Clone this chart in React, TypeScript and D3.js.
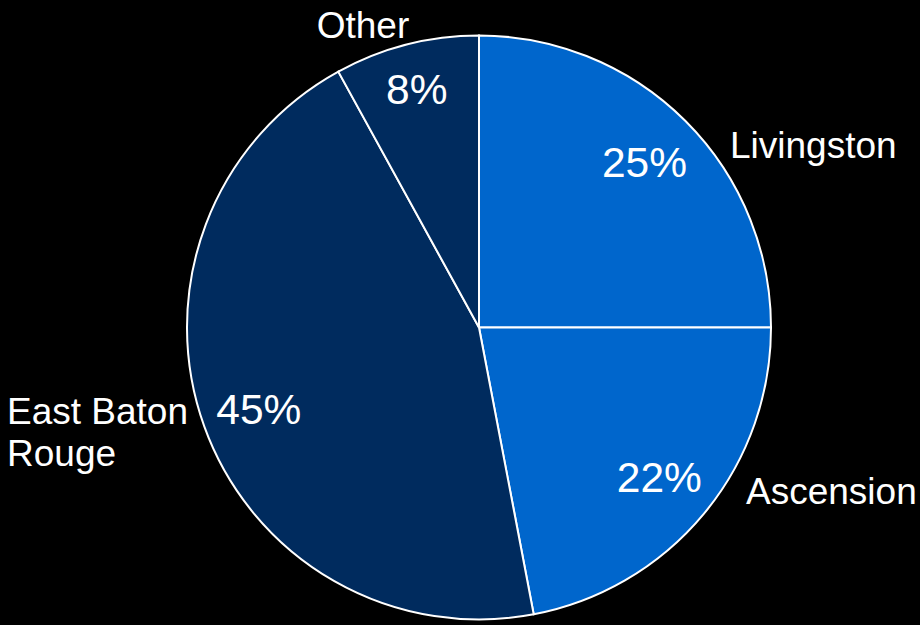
import React from "react";
import * as d3 from "d3";

const categories = ["Livingston", "Ascension", "East Baton Rouge", "Other"];
const values = [25, 22, 45, 8];
const colors = ["#0066CC", "#0066CC", "#002B5E", "#002B5E"];

// label layout (positions in px relative to pie center), kept separate from data
const labelLines: string[][] = [["Livingston"], ["Ascension"], ["East Baton", "Rouge"], ["Other"]];
const labelLayout = [
  { x: 251, y: -170, anchor: "start" },
  { x: 267, y: 176, anchor: "start" },
  { x: -472, y: 96, anchor: "start" },
  { x: -116, y: -290, anchor: "middle" },
];
const pctNudge = [
  { dx: 0, dy: 0 },
  { dx: 0, dy: 0 },
  { dx: 0, dy: 2 },
  { dx: -4, dy: -12 },
];

export default function App() {
  const W = 920, H = 625;
  const cx = 479, cy = 327.5, R = 292;
  const pie = d3.pie<number>().sort(null).value((d) => d);
  const arcs = pie(values);
  const arc = d3.arc<d3.PieArcDatum<number>>().innerRadius(0).outerRadius(R);
  const labelArc = d3.arc<d3.PieArcDatum<number>>().innerRadius(234).outerRadius(234);
  const font = "'Liberation Sans', Arial, sans-serif";
  const total = d3.sum(values);
  return (
    <svg width={W} height={H} style={{ position: "absolute", left: 0, top: 0, background: "#000" }}>
      <rect width={W} height={H} fill="#000" />
      <g transform={`translate(${cx},${cy})`}>
        {arcs.map((a, i) => (
          <path key={i} d={arc(a) || ""} fill={colors[i]} stroke="#fff" strokeWidth={2} />
        ))}
        {arcs.map((a, i) => {
          const [x, y] = labelArc.centroid(a);
          return (
            <text key={"p" + i} x={x + pctNudge[i].dx} y={y + pctNudge[i].dy} dy="0.36em" textAnchor="middle" fill="#fff" fontFamily={font} fontSize={42.5}>
              {d3.format(".0%")(a.data / total)}
            </text>
          );
        })}
        {categories.map((c, i) => {
          const l = labelLayout[i];
          const lines = labelLines[i];
          return (
            <text key={"l" + i} x={l.x} y={l.y} textAnchor={l.anchor as any} fill="#fff" fontFamily={font} fontSize={37}>
              {lines.map((t, j) => (
                <tspan key={j} x={l.x} dy={j === 0 ? 0 : 42}>{t}</tspan>
              ))}
            </text>
          );
        })}
      </g>
    </svg>
  );
}
